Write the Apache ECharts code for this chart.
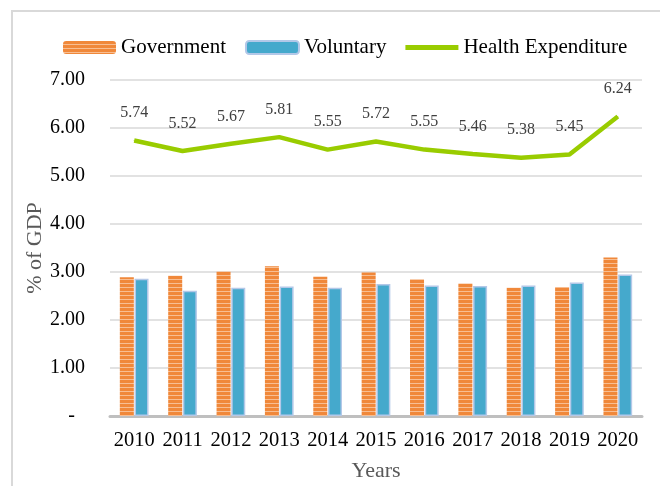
<!DOCTYPE html>
<html>
<head>
<meta charset="utf-8">
<script src="https://cdn.jsdelivr.net/npm/echarts@6/dist/echarts.min.js"></script>
<style>html,body{margin:0;padding:0;background:#fff}#c{width:660px;height:486px}</style>
</head>
<body>
<div id="c"></div>
<script>
var years = ['2010','2011','2012','2013','2014','2015','2016','2017','2018','2019','2020'];
var government = [2.89, 2.92, 3.01, 3.12, 2.90, 2.99, 2.85, 2.76, 2.67, 2.69, 3.30];
var voluntary = [2.86, 2.61, 2.67, 2.70, 2.67, 2.75, 2.72, 2.71, 2.72, 2.78, 2.95];
var healthExp = [5.74, 5.52, 5.67, 5.81, 5.55, 5.72, 5.55, 5.46, 5.38, 5.45, 6.24];
var yTicks = [0, 1, 2, 3, 4, 5, 6, 7];

var pc = document.createElement('canvas');
pc.width = 8; pc.height = 4;
var pctx = pc.getContext('2d');
pctx.fillStyle = '#F0883A'; pctx.fillRect(0, 0, 8, 4);
pctx.fillStyle = '#F8BE92'; pctx.fillRect(0, 3, 8, 1);

var font = '"Liberation Serif", "Times New Roman", serif';
var chart = echarts.init(document.getElementById('c'), null, {renderer: 'canvas'});
chart.setOption({
  animation: false,
  backgroundColor: '#fff',
  graphic: [{
    type: 'rect', shape: {x: 12, y: 11, width: 700, height: 520},
    style: {fill: 'none', stroke: '#D9D9D9', lineWidth: 2}, silent: true, z: -1
  }],
  legend: {
    top: 32, left: 58, itemWidth: 53, itemHeight: 13, itemGap: 19,
    textStyle: {fontFamily: font, fontSize: 21, color: '#000'},
    data: ['Government', 'Voluntary', {name: 'Health Expenditure', icon: 'path://M0,0 L52,0 L52,5 L0,5 Z'}]
  },
  grid: {left: 110, right: 18, top: 80, bottom: 70, containLabel: false, outerBoundsMode: 'none'},
  xAxis: {
    type: 'category', data: years,
    name: 'Years', nameLocation: 'middle', nameGap: 44,
    nameTextStyle: {fontFamily: font, fontSize: 22, color: '#595959'},
    axisLine: {lineStyle: {color: '#BFBFBF', width: 3}},
    axisTick: {show: false},
    axisLabel: {fontFamily: font, fontSize: 20.5, color: '#000', margin: 14, interval: 0, hideOverlap: false}
  },
  yAxis: {
    type: 'value', min: 0, max: 7, interval: 1,
    name: '% of GDP', nameLocation: 'middle', nameGap: 64, nameMoveOverlap: false,
    nameTextStyle: {fontFamily: font, fontSize: 22, color: '#595959'},
    axisLine: {show: false}, axisTick: {show: false},
    axisLabel: {fontFamily: font, fontSize: 20, color: '#000', margin: 25,
      formatter: function (v) { return v === 0 ? '-  ' : v.toFixed(2); }},
    splitLine: {lineStyle: {color: '#D9D9D9', width: 1.5}}
  },
  series: [
    {
      name: 'Government', type: 'bar', data: government, barWidth: 14, barGap: '5%',
      itemStyle: {color: {image: pc, repeat: 'repeat'}}
    },
    {
      name: 'Voluntary', type: 'bar', data: voluntary, barWidth: 14,
      itemStyle: {color: '#45A9CC', borderColor: '#B3C8E8', borderWidth: 1.5}
    },
    {
      name: 'Health Expenditure', type: 'line', data: healthExp,
      symbol: 'circle', symbolSize: 1, showSymbol: true,
      lineStyle: {color: '#99CC00', width: 4.5}, itemStyle: {color: '#99CC00'},
      label: {show: true, position: 'top', distance: 19, fontFamily: font, fontSize: 16, color: '#404040',
        formatter: function (p) { return p.value.toFixed(2); }}
    }
  ]
});
</script>
</body>
</html>
